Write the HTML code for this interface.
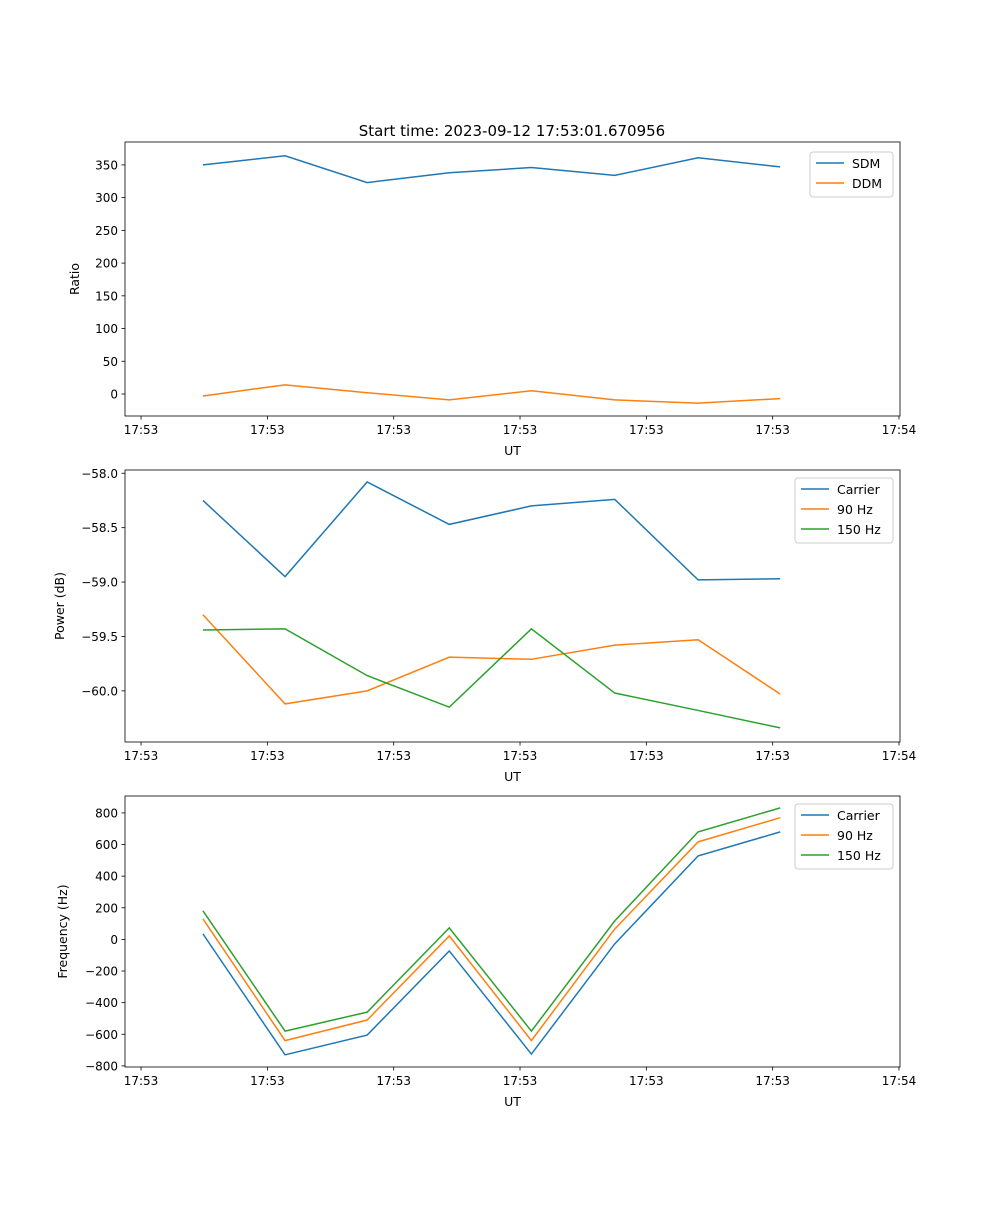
<!DOCTYPE html>
<html><head><meta charset="utf-8"><style>
html,body{margin:0;padding:0;background:#fff;}
svg text{font-family:"DejaVu Sans","Liberation Sans",sans-serif;fill:#000;}
</style></head><body>
<svg id="fig" width="1000" height="1200" viewBox="0 0 1000 1200" xmlns="http://www.w3.org/2000/svg">
<rect width="1000" height="1200" fill="#fff"/>
<text x="512" y="136" font-size="15" text-anchor="middle">Start time: 2023-09-12 17:53:01.670956</text>
</svg>
<script>
// shared x data (seconds after 17:53:00)
const times = [4.9, 11.4, 17.9, 24.4, 30.9, 37.5, 44.1, 50.6];
const xTickValues = [0, 10, 20, 30, 40, 50, 60];
const xTickLabels = ["17:53","17:53","17:53","17:53","17:53","17:53","17:54"];
// panel 1
const sdm = [350, 364, 323, 338, 346, 334, 361, 347];
const ddm = [-3, 14, 2, -9, 5, -9, -14, -7];
const ratioTicks = [0, 50, 100, 150, 200, 250, 300, 350];
// panel 2
const powerCarrier = [-58.25, -58.95, -58.08, -58.47, -58.30, -58.24, -58.98, -58.97];
const power90 = [-59.30, -60.12, -60.00, -59.69, -59.71, -59.58, -59.53, -60.03];
const power150 = [-59.44, -59.43, -59.86, -60.15, -59.43, -60.02, -60.18, -60.34];
const powerTicks = [-58.0, -58.5, -59.0, -59.5, -60.0];
// panel 3
const freqCarrier = [35, -730, -605, -73, -725, -28, 528, 680];
const freq90 = [130, -640, -510, 22, -640, 66, 617, 770];
const freq150 = [181, -580, -460, 73, -580, 117, 680, 832];
const freqTicks = [-800, -600, -400, -200, 0, 200, 400, 600, 800];

const NS = "http://www.w3.org/2000/svg";
const svg = document.getElementById('fig');
const C = ["#1f77b4", "#ff7f0e", "#2ca02c"];
function mk(tag, attrs, parent) {
  const e = document.createElementNS(NS, tag);
  for (const k in attrs) e.setAttribute(k, attrs[k]);
  (parent || svg).appendChild(e);
  return e;
}
const L = 125, R = 900;
const xMin = -1.27, xMax = 60.08;
function xs(v) { return L + (v - xMin) / (xMax - xMin) * (R - L); }

function panel(p) {
  const g = mk('g', {});
  
  
  const ys = v => p.bot - (v - p.yMin) / (p.yMax - p.yMin) * (p.bot - p.top);
  p.series.forEach((s, i) => {
    const pts = times.map((t, j) => xs(t).toFixed(2) + ',' + ys(s.vals[j]).toFixed(2)).join(' ');
    const pl = mk('polyline', {points: pts, fill: 'none', stroke: C[i], 'stroke-width': 1.5}, g);
    
    
  });
  const fr = mk('rect', {x: L, y: p.top, width: R - L, height: p.bot - p.top, fill: 'none', stroke: '#000', 'stroke-width': 0.8}, g);
  
  
  xTickValues.forEach((v, i) => {
    const x = xs(v);
    mk('line', {x1: x, x2: x, y1: p.bot, y2: p.bot + 3.5, stroke: '#000', 'stroke-width': 0.8}, g);
    const t = mk('text', {x: x, y: p.bot + 18, 'font-size': 12, 'text-anchor': 'middle'}, g);
    
    
    t.textContent = xTickLabels[i];
  });
  const xl = mk('text', {x: (L + R) / 2, y: p.bot + 39, 'font-size': 12.5, 'text-anchor': 'middle'}, g);
  
  
  xl.textContent = 'UT';
  p.ticks.forEach(v => {
    const y = ys(v);
    mk('line', {x1: L - 3.5, x2: L, y1: y, y2: y, stroke: '#000', 'stroke-width': 0.8}, g);
    const t = mk('text', {x: L - 7, y: y + 4.5, 'font-size': 12, 'text-anchor': 'end'}, g);
    
    
    t.textContent = p.fmt(v);
  });
  const yl = mk('text', {x: p.ylx, y: (p.top + p.bot) / 2, 'font-size': 12.5, 'text-anchor': 'middle', transform: 'rotate(-90 ' + p.ylx + ' ' + (p.top + p.bot) / 2 + ')'}, g);
  
  
  yl.textContent = p.ylabel;
  const lg = mk('g', {}, g);
  
  
  const lh = 5 + p.series.length * 20;
  mk('rect', {x: p.lx, y: p.ly, width: 893 - p.lx, height: lh, rx: 3, fill: '#fff', 'fill-opacity': 0.8, stroke: '#ccc'}, lg);
  p.series.forEach((s, i) => {
    const yy = p.ly + 15 + i * 20;
    const e = mk('g', {}, lg);
    
    
    mk('line', {x1: p.lx + 6, x2: p.lx + 34, y1: yy - 4, y2: yy - 4, stroke: C[i], 'stroke-width': 1.5}, e);
    const t = mk('text', {x: p.lx + 42, y: yy + 1, 'font-size': 12.5}, e);
    t.textContent = s.label;
  });
}
const fmtDash = v => (v < 0 ? '\u2212' + Math.abs(v) : '' + v);
panel({name: 'ratio-panel', top: 142, bot: 416, yMin: -33.6, yMax: 385, ticks: ratioTicks,
  fmt: fmtDash, ylabel: 'Ratio', ylx: 79, lx: 810, ly: 152,
  series: [{key: 'sdm', label: 'SDM', vals: sdm}, {key: 'ddm', label: 'DDM', vals: ddm}]});
panel({name: 'power-panel', top: 470, bot: 742, yMin: -60.47, yMax: -57.97, ticks: powerTicks,
  fmt: v => '\u2212' + Math.abs(v).toFixed(1), ylabel: 'Power (dB)', ylx: 64, lx: 795, ly: 478,
  series: [{key: 'carrier', label: 'Carrier', vals: powerCarrier}, {key: '90hz', label: '90 Hz', vals: power90}, {key: '150hz', label: '150 Hz', vals: power150}]});
panel({name: 'frequency-panel', top: 796, bot: 1067, yMin: -807, yMax: 907, ticks: freqTicks,
  fmt: fmtDash, ylabel: 'Frequency (Hz)', ylx: 67, lx: 795, ly: 804,
  series: [{key: 'carrier', label: 'Carrier', vals: freqCarrier}, {key: '90hz', label: '90 Hz', vals: freq90}, {key: '150hz', label: '150 Hz', vals: freq150}]});
</script>
</body></html>
